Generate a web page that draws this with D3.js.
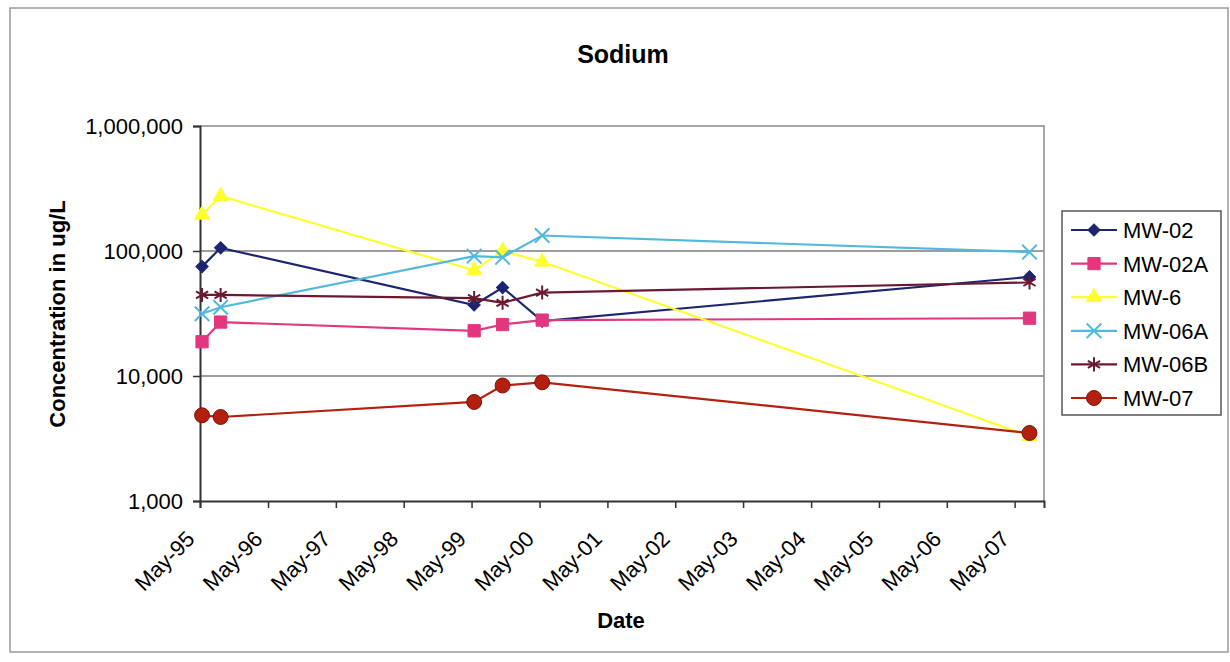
<!DOCTYPE html>
<html>
<head>
<meta charset="utf-8">
<script src="https://cdn.jsdelivr.net/npm/d3@7/dist/d3.min.js"></script>
<style>
  body { margin: 0; background: #fff; }
  svg text { font-family: Arial, "Liberation Sans", sans-serif; fill: #000; }
</style>
</head>
<body>
<svg id="chart" width="1230" height="662"></svg>
<script>
// sample dates
const sampleDates = ['1995-05-12', '1995-08-20', '1999-05-15', '1999-10-15', '2000-05-15', '2007-07-20'];

// sodium, ug/L
const mw02  = [75000, 106000, 37000, 51000, 27500, 62000];
const mw02a = [18800, 27000, 23000, 25800, 28000, 29000];
const mw6   = [195000, 275000, 70000, 100000, 82000, 3300];
const mw06a = [31500, 35500, 91000, 89000, 133000, 98000];
const mw06b = [44500, 44500, 42000, 38500, 46500, 56000];
const mw07  = [4850, 4700, 6200, 8400, 8900, 3500];

const seriesNames = ['MW-02', 'MW-02A', 'MW-6', 'MW-06A', 'MW-06B', 'MW-07'];
const yTicks = [1000, 10000, 100000, 1000000];
const xTickYears = [1995, 1996, 1997, 1998, 1999, 2000, 2001, 2002, 2003, 2004, 2005, 2006, 2007];

const parse = d3.timeParse('%Y-%m-%d');
const dates = sampleDates.map(parse);

const series = [
  { name: seriesNames[0], values: mw02,  color: '#1c2570', marker: 'diamond' },
  { name: seriesNames[1], values: mw02a, color: '#e2367f', marker: 'square' },
  { name: seriesNames[2], values: mw6,   color: '#ffff2e', marker: 'triangle' },
  { name: seriesNames[3], values: mw06a, color: '#52b9dc', marker: 'cross' },
  { name: seriesNames[4], values: mw06b, color: '#6a1930', marker: 'star' },
  { name: seriesNames[5], values: mw07,  color: '#b3200f', marker: 'circle' }
];

const svg = d3.select('#chart');
const plotLeft = 200, plotRight = 1044, plotTop = 126, plotBottom = 501;

const x = d3.scaleTime()
  .domain([new Date(1995, 4, 1), new Date(2007, 9, 6)])
  .range([plotLeft, plotRight]);
const y = d3.scaleLog()
  .domain([1000, 1000000])
  .range([plotBottom, plotTop]);

// outer frame
svg.append('rect')
  .attr('x', 10).attr('y', 8).attr('width', 1218).attr('height', 644)
  .attr('fill', 'none').attr('stroke', '#9a9a9a').attr('stroke-width', 1.5);

// title
svg.append('text')
  .attr('x', 623).attr('y', 63)
  .attr('text-anchor', 'middle')
  .style('font-size', '25px').style('font-weight', 'bold')
  .text('Sodium');

// gridlines
svg.append('g')
  .selectAll('line')
  .data(yTicks.slice(1, -1))
  .enter().append('line')
  .attr('x1', plotLeft).attr('x2', plotRight)
  .attr('y1', d => y(d)).attr('y2', d => y(d))
  .attr('stroke', '#7c7c7c').attr('stroke-width', 1.5);

// plot area border (top, right)
svg.append('path')
  .attr('d', `M${plotLeft},${plotTop}H${plotRight}V${plotBottom}`)
  .attr('fill', 'none').attr('stroke', '#8a8a8a').attr('stroke-width', 1.5);

// y axis
const yAxis = d3.axisLeft(y)
  .tickValues(yTicks)
  .tickFormat(d3.format(','))
  .tickSize(7).tickPadding(10);
const gy = svg.append('g').attr('transform', `translate(${plotLeft},0)`).call(yAxis);
gy.select('.domain').attr('stroke', '#333').attr('stroke-width', 2);
gy.selectAll('.tick line').attr('stroke', '#333').attr('stroke-width', 1.5);
gy.selectAll('.tick text').style('font-size', '22px').attr('fill', '#111');

// x axis
const xAxis = d3.axisBottom(x)
  .tickValues(xTickYears.map(yr => new Date(yr, 4, 1)))
  .tickFormat(d3.timeFormat('%b-%y'))
  .tickSize(7);
const gx = svg.append('g').attr('transform', `translate(0,${plotBottom})`).call(xAxis);
gx.select('.domain').attr('stroke', '#333').attr('stroke-width', 2);
gx.selectAll('.tick line').attr('stroke', '#333').attr('stroke-width', 1.5);
gx.selectAll('.tick text')
  .style('font-size', '22px').attr('fill', '#111')
  .attr('text-anchor', 'end')
  .attr('x', 0).attr('y', 0).attr('dy', '0.35em')
  .attr('transform', 'translate(-10,34) rotate(-45)');

// axis titles
svg.append('text')
  .attr('transform', 'translate(65,314) rotate(-90)')
  .attr('text-anchor', 'middle')
  .style('font-size', '22px').style('font-weight', 'bold')
  .text('Concentration in ug/L');
svg.append('text')
  .attr('x', 621).attr('y', 628)
  .attr('text-anchor', 'middle')
  .style('font-size', '22px').style('font-weight', 'bold')
  .text('Date');

// markers
const symbolType = {
  diamond: d3.symbolSquare, square: d3.symbolSquare, triangle: d3.symbolTriangle,
  cross: d3.symbolX, star: d3.symbolAsterisk, circle: d3.symbolCircle
};
const symbolSize = { diamond: 75, square: 150, triangle: 100, cross: 140, star: 140, circle: 175 };

function drawMarker(g, s) {
  const open = s.marker === 'cross' || s.marker === 'star';
  g.append('path')
    .attr('d', d3.symbol().type(symbolType[s.marker]).size(symbolSize[s.marker])())
    .attr('transform', s.marker === 'diamond' ? 'rotate(45)' : null)
    .attr('fill', open ? 'none' : s.color)
    .attr('stroke', s.marker === 'circle' ? '#7a1208' : s.color)
    .attr('stroke-width', open ? 2 : 1);
}

const line = d3.line()
  .x(d => x(d[0]))
  .y(d => y(d[1]));

series.forEach(s => {
  const pts = dates.map((d, i) => [d, s.values[i]]);
  const g = svg.append('g');
  g.append('path')
    .datum(pts)
    .attr('d', line)
    .attr('fill', 'none')
    .attr('stroke', s.color)
    .attr('stroke-width', 2.2);
  pts.forEach(p => {
    drawMarker(g.append('g').attr('transform', `translate(${x(p[0])},${y(p[1])})`), s);
  });
});

// legend
const legend = svg.append('g').attr('transform', 'translate(1062,211)');
legend.append('rect')
  .attr('width', 159).attr('height', 204)
  .attr('fill', '#fff').attr('stroke', '#555').attr('stroke-width', 1.5);
series.forEach((s, i) => {
  const row = legend.append('g').attr('transform', `translate(0,${19 + i * 33.6})`);
  row.append('line')
    .attr('x1', 9).attr('x2', 55)
    .attr('stroke', s.color).attr('stroke-width', 2.2);
  drawMarker(row.append('g').attr('transform', 'translate(32,0)'), s);
  row.append('text')
    .attr('x', 61).attr('y', 0).attr('dy', '0.36em')
    .style('font-size', '22px')
    .text(s.name);
});
</script>
</body>
</html>
